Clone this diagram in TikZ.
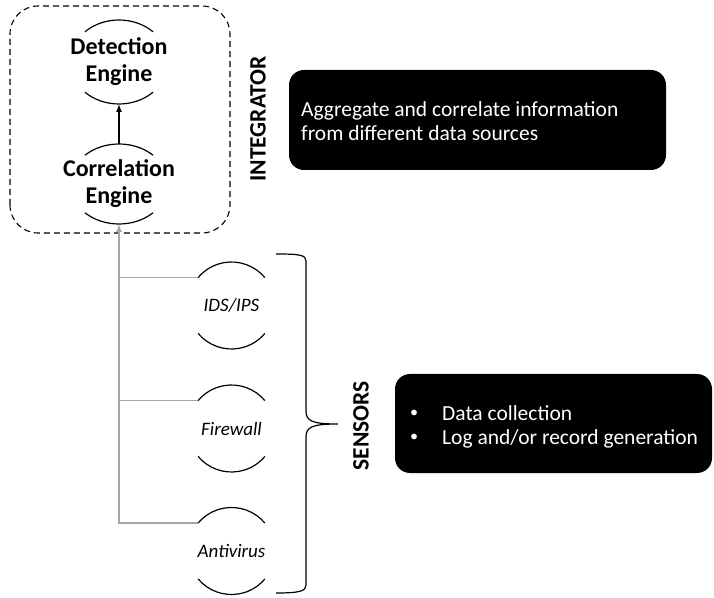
\documentclass[tikz,border=0pt]{standalone}
\usepackage{fontspec}
\setmainfont{Carlito}
\usetikzlibrary{arrows.meta}
\definecolor{feedgray}{RGB}{166,166,166}
\newcommand{\smallbullet}{\raisebox{0.12em}{\scalebox{0.75}{\textbullet}}}
\begin{document}
\begin{tikzpicture}[x=1pt,y=1pt,
  lbl/.style={font=\fontsize{24}{27}\selectfont\bfseries, align=center, inner sep=0pt},
  sens/.style={font=\fontsize{19}{22}\selectfont\itshape, inner sep=0pt},
  arcline/.style={line width=1.2pt},
  feed/.style={draw=feedgray, line width=1.5pt},
  blackbox/.style={fill=black, rounded corners=15pt},
  boxtext/.style={text=white, font=\fontsize{21.5}{24}\selectfont, align=left, inner sep=0pt, anchor=west},
  tag/.style={font=\fontsize{23.5}{23.5}\selectfont\bfseries, rotate=90, inner sep=0pt}]

\useasboundingbox (0,0) rectangle (714,597);

% integrator frame
\draw[line width=1.1pt, dash pattern=on 6pt off 4pt, rounded corners=28pt]
  (10,364) rectangle (230,591);

% engines
\node[lbl] (det) at (119,535) {Detection\\Engine};
\node[lbl] (cor) at (119,413) {Correlation\\Engine};
\draw[arcline] ([shift={(46:49 and 42)}]det.center) arc[start angle=46,end angle=134,x radius=49,y radius=42];
\draw[arcline] ([shift={(226:49 and 42)}]det.center) arc[start angle=226,end angle=314,x radius=49,y radius=42];
\draw[arcline] ([shift={(46:49 and 40)}]cor.center) arc[start angle=46,end angle=134,x radius=49,y radius=40];
\draw[arcline] ([shift={(226:49 and 40)}]cor.center) arc[start angle=226,end angle=314,x radius=49,y radius=40];
\coordinate (detbot) at ([shift={(270:49 and 42)}]det.center);
\coordinate (cortop) at ([shift={(90:49 and 40)}]cor.center);
\coordinate (corbot) at ([shift={(270:49 and 40)}]cor.center);
\draw[line width=1.3pt, -{Latex[length=8pt,width=6pt]}] (cortop) -- (detbot);

% sensors
\node[sens] (ids) at (231.5,291.5) {IDS/IPS};
\node[sens] (fw)  at (231.5,168.5) {Firewall};
\node[sens] (av)  at (231.5,46) {Antivirus};
\foreach \s in {ids,fw,av}{
  \draw[arcline] ([shift={(40:43.5)}]\s.center) arc[start angle=40,end angle=140,radius=43.5];
  \draw[arcline] ([shift={(220:43.5)}]\s.center) arc[start angle=220,end angle=320,radius=43.5];
}
\coordinate (idsin) at ([shift={(140:43.5)}]ids.center);
\coordinate (fwin)  at ([shift={(140:43.5)}]fw.center);
\coordinate (avin)  at ([shift={(140:43.5)}]av.center);

% feeds from the sensors to the correlation engine
\coordinate (busbot) at (cor.center |- avin);
\draw[feed, -{Latex[length=8pt,width=6pt]}] (avin) -- (busbot) -- (corbot);
\draw[feed] (idsin) -- (idsin -| busbot);
\draw[feed] (fwin) -- (fwin -| busbot);

% brace grouping the sensors
\coordinate (tip) at (338,173);
\draw[line width=1.2pt]
  (276,343) .. controls (300,343) and (306,342) .. (306,336) -- (306,186)
  .. controls (306,176) and (312,173) .. (tip)
  .. controls (312,173) and (306,170) .. (306,160) -- (306,12)
  .. controls (306,6) and (300,4) .. (276,4);

% layer tags
\node[tag] (integ) at (258,478) {INTEGRATOR};
\node[tag] (sensl) at (361,171) {SENSORS};

% description boxes
\fill[blackbox] (289,427) rectangle (666,527);
\node[boxtext] (idesc) at (301,475.5) {Aggregate and correlate information\\from different data sources};
\fill[blackbox] (395,124) rectangle (712,223);
\node[boxtext] (sdesc) at (410,169.5) {\begin{tabular}{@{}p{32pt}@{}l@{}}
  \smallbullet & Data collection\\[0pt]
  \smallbullet & Log and/or record generation
\end{tabular}};
\end{tikzpicture}
\end{document}
